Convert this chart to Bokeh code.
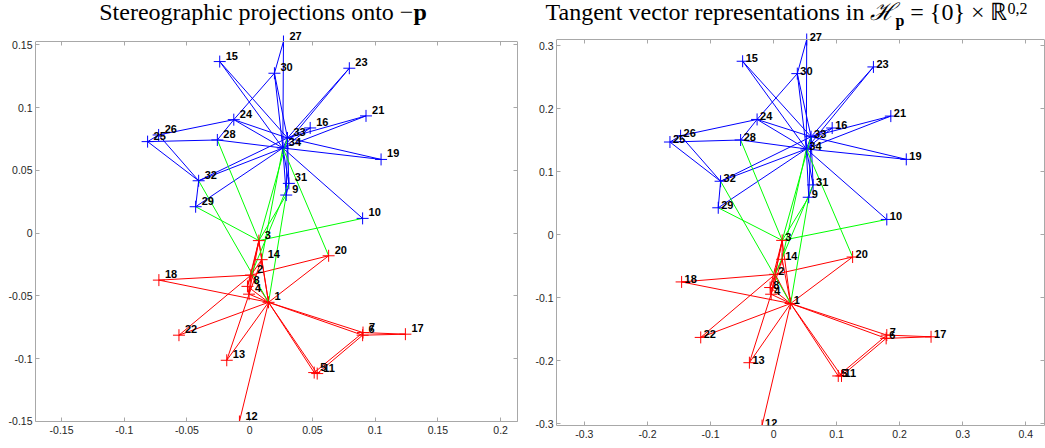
import numpy as np
from bokeh.plotting import figure
from bokeh.models import ColumnDataSource, Div, FixedTicker, LinearAxis, Range1d, Label
from bokeh.layouts import row, column
from bokeh.embed import file_html
from bokeh.resources import INLINE
from bokeh.core.properties import value

# ---------------- data ----------------
node_ids = list(range(1, 35))
# community of every node (A = red group, B = blue group)
community = ["A", "A", "A", "A", "A", "A", "A", "A", "B", "B",
             "A", "A", "A", "A", "B", "B", "A", "A", "B", "A",
             "B", "A", "B", "B", "B", "B", "B", "B", "B", "B",
             "B", "B", "B", "B"]

# edges (1-based node numbers)
edge_src = [1, 1, 1, 1, 1, 1, 1, 1, 1, 1, 1, 1, 1, 1, 1, 1,
            2, 2, 2, 2, 2, 2, 2,
            3, 3, 3, 3, 3, 3, 3,
            4, 4, 4, 5, 5, 6, 6, 6, 7,
            9, 9, 9, 10, 14, 15, 15, 16, 16, 19, 19, 20, 21, 21, 23, 23,
            24, 24, 24, 24, 24, 25, 25, 25, 26, 27, 27, 28, 29, 29,
            30, 30, 31, 31, 32, 32, 33, 2, 3]
edge_dst = [2, 3, 4, 5, 6, 7, 8, 9, 11, 12, 13, 14, 18, 20, 22, 32,
            3, 4, 8, 14, 18, 20, 22,
            4, 8, 9, 10, 14, 28, 29,
            8, 13, 14, 7, 11, 7, 11, 17, 17,
            31, 33, 34, 34, 34, 33, 34, 33, 34, 33, 34, 34, 33, 34, 33, 34,
            26, 28, 30, 33, 34, 26, 28, 32, 32, 30, 34, 34, 32, 34,
            33, 34, 33, 34, 33, 34, 34, 31, 33]

# stereographic projections (left panel)
stereo_x = [0.0150, 0.0010, 0.0073, -0.0005, 0.0514, 0.0900, 0.0903, -0.0018, 0.0291, 0.0900,
            0.0538, -0.0082, -0.0183, 0.0095, -0.0239, 0.0482, 0.1241, -0.0724, 0.1047, 0.0629,
            0.0927, -0.0564, 0.0794, -0.0127, -0.0814, -0.0726, 0.0269, -0.0258, -0.0431, 0.0197,
            0.0312, -0.0407, 0.0301, 0.0264]
stereo_y = [-0.0552, -0.0335, -0.0060, -0.0487, -0.1112, -0.0814, -0.0793, -0.0425, 0.0303, 0.0117,
            -0.1120, -0.1502, -0.1014, -0.0212, 0.1367, 0.0838, -0.0806, -0.0375, 0.0587, -0.0181,
            0.0934, -0.0814, 0.1314, 0.0904, 0.0729, 0.0782, 0.1527, 0.0742, 0.0210, 0.1274,
            0.0396, 0.0417, 0.0758, 0.0678]

# tangent vector representations (right panel)
tangent_x = [0.0271, 0.0026, 0.0137, -0.0038, 0.1026, 0.1786, 0.1796, -0.0054, 0.0558, 0.1796,
             0.1078, -0.0182, -0.0383, 0.0137, -0.0490, 0.0930, 0.2498, -0.1458, 0.2105, 0.1254,
             0.1860, -0.1155, 0.1584, -0.0261, -0.1643, -0.1474, 0.0526, -0.0522, -0.0877, 0.0377,
             0.0627, -0.0840, 0.0595, 0.0520]
tangent_y = [-0.1091, -0.0628, -0.0090, -0.0944, -0.2240, -0.1644, -0.1592, -0.0838, 0.0594, 0.0242,
             -0.2240, -0.3026, -0.2030, -0.0390, 0.2751, 0.1692, -0.1619, -0.0749, 0.1195, -0.0354,
             0.1881, -0.1629, 0.2661, 0.1828, 0.1470, 0.1570, 0.3096, 0.1502, 0.0427, 0.2555,
             0.0790, 0.0848, 0.1554, 0.1360]

left_xticks = [-0.15, -0.1, -0.05, 0, 0.05, 0.1, 0.15, 0.2]
left_yticks = [-0.15, -0.1, -0.05, 0, 0.05, 0.1, 0.15]
left_xtick_labels = ["-0.15", "-0.1", "-0.05", "0", "0.05", "0.1", "0.15", "0.2"]
left_ytick_labels = ["-0.15", "-0.1", "-0.05", "0", "0.05", "0.1", "0.15"]
right_xticks = [-0.3, -0.2, -0.1, 0, 0.1, 0.2, 0.3, 0.4]
right_yticks = [-0.3, -0.2, -0.1, 0, 0.1, 0.2, 0.3]
right_xtick_labels = ["-0.3", "-0.2", "-0.1", "0", "0.1", "0.2", "0.3", "0.4"]
right_ytick_labels = ["-0.3", "-0.2", "-0.1", "0", "0.1", "0.2", "0.3"]

COLORS = {"A": "#ff0000", "B": "#0000ff", "X": "#00ff00"}
BOX = "#a8a8a8"
TICKTXT = "#262626"


def style_axis(ax, ticks, labs, font_px="10.5px"):
    ax.ticker = FixedTicker(ticks=ticks)
    ax.major_label_overrides = {t: l for t, l in zip(ticks, labs)}
    ax.major_tick_in = 4
    ax.major_tick_out = 0
    ax.minor_tick_line_color = None
    ax.axis_line_color = BOX
    ax.major_tick_line_color = BOX
    ax.major_label_text_font = "Liberation Sans"
    ax.major_label_text_font_size = font_px
    ax.major_label_text_color = TICKTXT


def make_panel(xs, ys, xticks, xlabels, yticks, ylabels, fw, bh, ext_t,
               mbl, mbr, mbt, mbb, lab_off):
    # box = data extent (tight), aspect equal; frame a little taller at the top
    # so that the marker/label at the top edge is not clipped
    ymin, ymax = min(ys), max(ys)
    scale = bh / (ymax - ymin)
    xc = (min(xs) + max(xs)) / 2
    xw = fw / scale
    p = figure(frame_width=fw, frame_height=bh + ext_t,
               x_range=Range1d(xc - xw / 2, xc + xw / 2),
               y_range=Range1d(ymin, ymax + ext_t / scale),
               min_border_left=mbl, min_border_right=mbr,
               min_border_top=mbt, min_border_bottom=mbb,
               output_backend="svg", toolbar_location=None,
               background_fill_color=None, border_fill_color=None)
    p.grid.visible = False
    p.outline_line_color = None

    # edges, grouped by colour
    groups = {"A": ([], [], [], []), "B": ([], [], [], []), "X": ([], [], [], [])}
    for s, d in zip(edge_src, edge_dst):
        ca, cb = community[s - 1], community[d - 1]
        key = ca if ca == cb else "X"
        g = groups[key]
        g[0].append(xs[s - 1]); g[1].append(ys[s - 1])
        g[2].append(xs[d - 1]); g[3].append(ys[d - 1])
    for key in ["A", "B", "X"]:
        g = groups[key]
        p.segment(x0=g[0], y0=g[1], x1=g[2], y1=g[3],
                  line_color=COLORS[key], line_width=1)

    cols = [COLORS[c] for c in community]
    src = ColumnDataSource(dict(x=xs, y=ys, c=cols))
    p.scatter("x", "y", source=src, marker="cross", size=12,
              line_color="c", line_width=1)
    for xi, yi, nid in zip(xs, ys, node_ids):
        p.add_layout(Label(x=xi, y=yi, text=str(nid),
                           x_offset=lab_off, y_offset=lab_off,
                           text_align="left", text_baseline="middle",
                           text_font="Liberation Sans", text_font_style="bold",
                           text_font_size="11px", text_color="black"))

    xa, ya = p.xaxis[0], p.yaxis[0]
    style_axis(xa, xticks, xlabels)
    style_axis(ya, yticks, ylabels)
    xa.major_label_standoff = 4
    ya.bounds = (ymin, ymax)
    ya.major_label_standoff = 3

    # box edges with ticks on top and right (no labels)
    top = LinearAxis(fixed_location=ymax)
    style_axis(top, xticks, ["" for _ in xticks], "1px")
    top.major_label_standoff = 0
    p.add_layout(top, "above")
    rgt = LinearAxis(bounds=(ymin, ymax))
    style_axis(rgt, yticks, ["" for _ in yticks], "1px")
    rgt.major_label_standoff = 0
    p.add_layout(rgt, "right")
    return p


# left figure: x 0..532, frame 35..517 ; right figure: x 532..1044, frame 554..1042
p1 = make_panel(stereo_x, stereo_y, left_xticks, left_xtick_labels,
                left_yticks, left_ytick_labels, 482, 380, 13, 35, 15, 2, 17, 6)
p2 = make_panel(tangent_x, tangent_y, right_xticks, right_xtick_labels,
                right_yticks, right_ytick_labels, 488, 386, 11, 22, 2, 2, 17, 3)

TSTYLE = ("box-sizing:border-box; white-space:nowrap; "
          "font-family:'Liberation Serif','Times New Roman',serif; font-size:24px; "
          "line-height:24px; color:#000; text-align:center;")
d1 = Div(text=f'<div style="{TSTYLE} width:532px; padding-right:6px;">'
              'Stereographic projections onto &minus;<b>p</b></div>',
         width=532, height=26, margin=(0, 0, 0, 0))
d2 = Div(text=f'<div style="{TSTYLE} width:512px; padding-right:3px;">'
              'Tangent vector representations in <i>&#8459;</i>'
              '<sub style="font-size:16px; line-height:0;"><b>p</b></sub>'
              ' = {0} &times; &#8477;<span style="font-size:16px; line-height:0; '
              'vertical-align:6px;">0,2</span></div>',
         width=512, height=26, margin=(0, 0, 0, 0))

layout = row(column(d1, p1, spacing=0), column(d2, p2, spacing=0), spacing=0)
open("out.html", "w").write(file_html(layout, INLINE))
